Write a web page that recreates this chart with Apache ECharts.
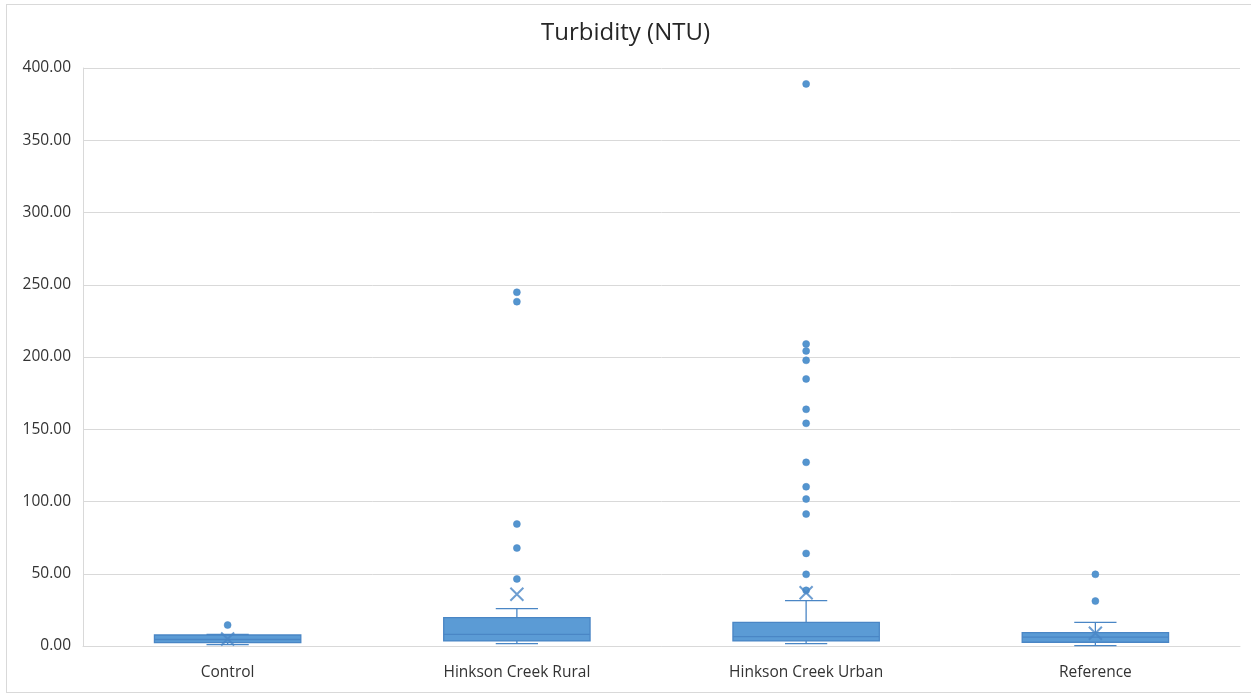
<!DOCTYPE html>
<html>
<head>
<meta charset="utf-8">
<script src="https://cdn.jsdelivr.net/npm/echarts@6/dist/echarts.min.js"></script>
<style>
html,body{margin:0;padding:0;background:#fff;overflow:hidden;}
#frame{position:absolute;left:6px;top:4px;width:1260px;height:689px;border:1px solid #d9d9d9;box-sizing:border-box;}
#chart{position:absolute;left:0;top:0;width:1251px;height:693px;}
</style>
</head>
<body>
<div id="frame"></div>
<div id="chart"></div>
<script>
const categories = ['Control', 'Hinkson Creek Rural', 'Hinkson Creek Urban', 'Reference'];
// [lowerWhisker, Q1, median, Q3, upperWhisker]
const boxStats = [
  [1.0, 2.3, 4.5, 7.6, 8.1],
  [1.6, 3.5, 8.1, 19.6, 25.8],
  [1.6, 3.5, 6.5, 16.4, 31.4],
  [0.2, 2.6, 6.2, 9.2, 16.4]
];
const means = [4.8, 35.8, 36.8, 8.8];
const outliersControl = [14.5];
const outliersRural = [46.4, 67.8, 84.4, 238.3, 244.8];
const outliersUrban = [38.5, 49.6, 64.1, 91.3, 101.7, 110.2, 127.1, 154.1, 163.8, 184.8, 197.7, 204.2, 209.0, 389.0];
const outliersReference = [31.1, 49.6];
const yTicks = { min: 0, max: 400, interval: 50 };

const outlierLists = [outliersControl, outliersRural, outliersUrban, outliersReference];
const outlierData = [];
outlierLists.forEach((list, i) => list.forEach(v => outlierData.push([i, v])));
const meanData = means.map((v, i) => [i, v]);
const boxData = boxStats.map((s, i) => [i].concat(s));

const fill = '#5B9BD5';
const edge = '#4A86C5';

const chart = echarts.init(document.getElementById('chart'));
chart.setOption({
  animation: false,
  title: {
    text: 'Turbidity (NTU)', left: 'center', top: 16,
    textStyle: { fontFamily: 'Open Sans', fontSize: 24, fontWeight: 'normal', color: '#262626' }
  },
  grid: { left: 83, right: 11, top: 68, bottom: 47 },
  xAxis: {
    type: 'category', data: categories,
    axisLine: { lineStyle: { color: '#d9d9d9' } },
    axisTick: { show: false },
    axisLabel: { fontFamily: 'Open Sans', fontSize: 15.5, color: '#333', margin: 19 },
    splitLine: { show: false }
  },
  yAxis: {
    type: 'value', min: yTicks.min, max: yTicks.max, interval: yTicks.interval,
    axisLine: { show: true, lineStyle: { color: '#d9d9d9' } },
    axisTick: { show: false },
    axisLabel: { fontFamily: 'Open Sans', fontSize: 15.5, color: '#333', margin: 12,
      padding: [3, 0, 0, 0], formatter: v => v.toFixed(2) },
    splitLine: { lineStyle: { color: '#d9d9d9' } }
  },
  series: [
    {
      type: 'custom',
      data: boxData,
      encode: { x: 0, y: [1, 2, 3, 4, 5] },
      renderItem: function (params, api) {
        const i = api.value(0);
        const bw = api.size([1, 0])[0];
        const half = bw * 0.253;
        const cap = bw * 0.073;
        const pLo = api.coord([i, api.value(1)]);
        const pQ1 = api.coord([i, api.value(2)]);
        const pMed = api.coord([i, api.value(3)]);
        const pQ3 = api.coord([i, api.value(4)]);
        const pHi = api.coord([i, api.value(5)]);
        const x = pMed[0];
        const ls = { stroke: edge, lineWidth: 1.3 };
        return {
          type: 'group',
          children: [
            { type: 'line', shape: { x1: x, y1: pHi[1], x2: x, y2: pQ3[1] }, style: ls },
            { type: 'line', shape: { x1: x, y1: pLo[1], x2: x, y2: pQ1[1] }, style: ls },
            { type: 'line', shape: { x1: x - cap, y1: pHi[1], x2: x + cap, y2: pHi[1] }, style: ls },
            { type: 'line', shape: { x1: x - cap, y1: pLo[1], x2: x + cap, y2: pLo[1] }, style: ls },
            { type: 'rect', shape: { x: x - half, y: pQ3[1], width: half * 2, height: pQ1[1] - pQ3[1] },
              style: { fill: fill, stroke: edge, lineWidth: 1.3 } },
            { type: 'line', shape: { x1: x - half, y1: pMed[1], x2: x + half, y2: pMed[1] }, style: ls }
          ]
        };
      },
      z: 2
    },
    {
      type: 'scatter',
      data: outlierData,
      symbol: 'circle', symbolSize: 7,
      itemStyle: { color: '#5495CF', borderColor: edge, borderWidth: 0.5, opacity: 1 },
      z: 3
    },
    {
      type: 'scatter',
      data: meanData,
      symbol: 'path://M0,0 L10,10 M10,0 L0,10',
      symbolSize: 13,
      itemStyle: { color: 'none', borderColor: edge, borderWidth: 2 },
      z: 4
    }
  ]
});
</script>
</body>
</html>
